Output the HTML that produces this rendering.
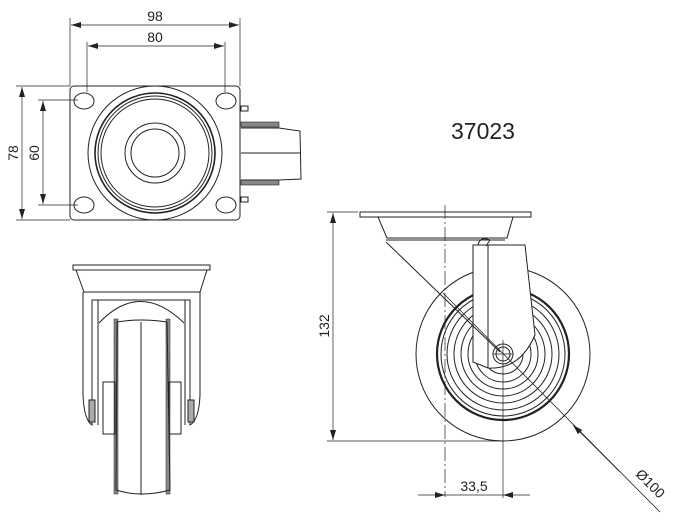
<!DOCTYPE html>
<html><head><meta charset="utf-8"><style>
html,body{margin:0;padding:0;background:#fff;}
svg{display:block;}
text{font-family:"Liberation Sans",sans-serif;fill:#222;}
</style></head><body>
<svg width="700" height="528" viewBox="0 0 700 528" xmlns="http://www.w3.org/2000/svg">
<defs>
<marker id="a" viewBox="0 0 10 6" refX="10" refY="3" markerWidth="10" markerHeight="6" orient="auto-start-reverse" markerUnits="userSpaceOnUse">
<path d="M0,0 L10,3 L0,6 z" fill="#222"/></marker>
</defs>
<g stroke="#222" fill="none" stroke-width="1">
<line x1="70" y1="18" x2="70" y2="86" stroke-width="0.7"/>
<line x1="240" y1="18" x2="240" y2="86" stroke-width="0.7"/>
<line x1="71" y1="25" x2="239" y2="25" marker-start="url(#a)" marker-end="url(#a)" stroke-width="0.7"/>
<line x1="87" y1="42" x2="87" y2="92" stroke-width="0.7"/>
<line x1="225" y1="42" x2="225" y2="92" stroke-width="0.7"/>
<line x1="88" y1="46" x2="224" y2="46" marker-start="url(#a)" marker-end="url(#a)" stroke-width="0.7"/>
<line x1="16" y1="86" x2="70" y2="86" stroke-width="0.7"/>
<line x1="16" y1="220" x2="70" y2="220" stroke-width="0.7"/>
<line x1="22" y1="87" x2="22" y2="219" marker-start="url(#a)" marker-end="url(#a)" stroke-width="0.7"/>
<line x1="38" y1="100" x2="78" y2="100" stroke-width="0.7"/>
<line x1="38" y1="205" x2="78" y2="205" stroke-width="0.7"/>
<line x1="43" y1="101" x2="43" y2="204" marker-start="url(#a)" marker-end="url(#a)" stroke-width="0.7"/>
<rect x="70" y="86" width="170" height="134" rx="4"/>
<ellipse cx="84" cy="101" rx="10" ry="8"/>
<ellipse cx="226" cy="101" rx="10" ry="8"/>
<ellipse cx="84" cy="205" rx="10" ry="8"/>
<ellipse cx="226" cy="205" rx="10" ry="8"/>
<circle cx="155" cy="153" r="67"/>
<circle cx="155" cy="153" r="60" stroke-width="1.6"/>
<circle cx="155" cy="153" r="57"/>
<circle cx="155" cy="153" r="54"/>
<circle cx="155" cy="153" r="30"/>
<circle cx="155" cy="153" r="24"/>
<rect x="241" y="106" width="7" height="5"/>
<rect x="241" y="197" width="7" height="5"/>
<rect x="241" y="122" width="38" height="5" fill="#888" stroke-width="0.6"/>
<rect x="241" y="180" width="38" height="5" fill="#888" stroke-width="0.6"/>
<path d="M241,128 L279,128 L300,131 L301,179 L279,180 L241,180"/>
<line x1="241" y1="153" x2="301" y2="153"/>
<rect x="73" y="265" width="137" height="5"/>
<path d="M76,270 L84,292 L200,292 L207,270"/>
<path d="M83,292 L83,395 Q84,420 92,425 L92,300 L190,300 L190,425 Q199,420 200,395 L200,292"/>
<path d="M98,300 L98,425 M185,300 L185,425"/>
<path d="M99,323 Q140,280 184,323"/>
<rect x="114" y="319" width="4" height="175" fill="#888" stroke-width="0.5"/>
<rect x="166" y="319" width="4" height="175" fill="#888" stroke-width="0.5"/>
<path d="M117,322 Q141,318 167,322 L170,490 Q141,498 116,490 Z"/>
<line x1="141" y1="322" x2="141" y2="495"/>
<rect x="103" y="382" width="12" height="52"/>
<rect x="169" y="382" width="12" height="52"/>
<rect x="89" y="400" width="6" height="22" fill="#aaa"/>
<rect x="188" y="400" width="6" height="22" fill="#aaa"/>
<line x1="327" y1="212" x2="358" y2="212" stroke-width="0.7"/>
<line x1="327" y1="441" x2="503" y2="441" stroke-width="0.7"/>
<line x1="333" y1="213" x2="333" y2="440" marker-start="url(#a)" marker-end="url(#a)" stroke-width="0.7"/>
<rect x="360" y="212" width="171" height="5"/>
<path d="M378,217 L387,238 L507,238 L513,217"/>
<line x1="386" y1="240" x2="505" y2="240"/>
<circle cx="503" cy="354" r="87"/>
<circle cx="503" cy="354" r="66" stroke-width="2.2"/>
<circle cx="503" cy="354" r="62"/>
<circle cx="503" cy="354" r="56"/>
<circle cx="503" cy="354" r="49"/>
<circle cx="503" cy="354" r="42"/>
<circle cx="503" cy="354" r="35"/>
<circle cx="503" cy="354" r="28"/>
<circle cx="503" cy="354" r="20"/>
<path d="M473,245 L473,362 L488,368 Q520,370 535,335 L525,245 Z" fill="#fff"/>
<line x1="488" y1="245" x2="488" y2="368"/>
<path d="M478,245 Q480,236 490,240 L486,246"/>
<circle cx="503" cy="354" r="10" fill="#fff"/>
<circle cx="503" cy="354" r="7"/>
<line x1="386" y1="242" x2="500" y2="352"/>
<line x1="443" y1="293" x2="660" y2="512" stroke-width="0.8"/>
<line x1="620" y1="472" x2="573" y2="425" marker-end="url(#a)" stroke-width="0.8"/>
<line x1="445" y1="205" x2="445" y2="497" stroke-width="0.7" stroke-dasharray="14,3,2,3"/>
<line x1="503" y1="340" x2="503" y2="498" stroke-width="0.7"/>
<line x1="493" y1="354" x2="513" y2="354" stroke-width="0.7"/>
<line x1="418" y1="495" x2="445" y2="495" marker-end="url(#a)" stroke-width="0.7"/>
<line x1="530" y1="495" x2="503" y2="495" marker-end="url(#a)" stroke-width="0.7"/>
<line x1="445" y1="495" x2="503" y2="495" stroke-width="0.7"/>
</g>
<text x="155" y="21" font-size="14" text-anchor="middle">98</text>
<text x="155" y="42" font-size="14" text-anchor="middle">80</text>
<text transform="translate(18,153) rotate(-90)" font-size="14" text-anchor="middle">78</text>
<text transform="translate(39,153) rotate(-90)" font-size="14" text-anchor="middle">60</text>
<text transform="translate(329,326) rotate(-90)" font-size="14" text-anchor="middle">132</text>
<text x="474" y="491" font-size="14" text-anchor="middle">33,5</text>
<text transform="translate(647,487) rotate(45)" font-size="14" text-anchor="middle">Ø100</text>
<text x="483" y="139" font-size="23" text-anchor="middle">37023</text>
</svg>
</body></html>
